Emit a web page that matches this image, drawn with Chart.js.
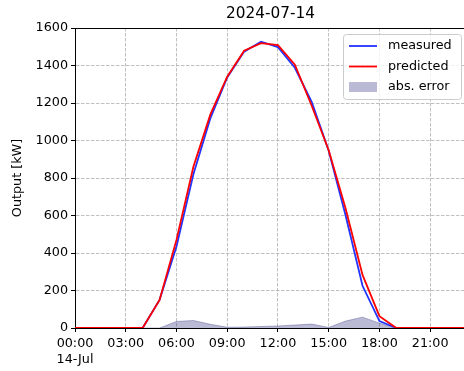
<!DOCTYPE html>
<html>
<head>
<meta charset="utf-8">
<script src="https://cdn.jsdelivr.net/npm/chart.js@4.4.1/dist/chart.umd.min.js"></script>
<style>
  html, body { margin: 0; padding: 0; background: #fff; }
  #chart { display: block; }
</style>
</head>
<body>
<canvas id="chart" width="464" height="371"></canvas>
<script>
// hourly values for 2024-07-14
const hours = [0, 1, 2, 3, 4, 5, 6, 7, 8, 9, 10, 11, 12, 13, 14, 15, 16, 17, 18, 19, 20, 21, 22, 23];
const measured = [0, 0, 0, 0, 0, 150, 435, 820, 1118, 1336, 1474, 1527, 1498, 1388, 1205, 945, 600, 225, 37, 0, 0, 0, 0, 0];
const predicted = [0, 0, 0, 0, 0, 150, 470, 860, 1138, 1340, 1479, 1519, 1509, 1404, 1184, 948, 637, 283, 63, 0, 0, 0, 0, 0];
const absError = [0, 0, 0, 0, 0, 0, 35, 40, 20, 4, 5, 8, 11, 16, 21, 3, 37, 58, 26, 0, 0, 0, 0, 0];

const yTicks = [0, 200, 400, 600, 800, 1000, 1200, 1400, 1600];
const xTickLabels = { 0: ['00:00', '14-Jul'], 3: '03:00', 6: '06:00', 9: '09:00', 12: '12:00', 15: '15:00', 18: '18:00', 21: '21:00' };
const titleText = '2024-07-14';
const yTitle = 'Output [kW]';

const FONT = 'DejaVu Sans';
const BLUE = '#2233ff';
const RED = '#ff0000';
const ERR_FILL = 'rgba(25, 25, 112, 0.3)';

const toPoints = arr => hours.map((h, i) => ({ x: h, y: arr[i] }));

// title over the plot area, top spine and the legend box inside the axes
const decorations = {
    id: 'decorations',
    afterDraw(chart) {
        const { ctx, chartArea: a } = chart;
        ctx.save();

        ctx.strokeStyle = '#000';
        ctx.lineWidth = 1;
        ctx.beginPath();
        ctx.moveTo(a.left, a.top + 0.5);
        ctx.lineTo(a.right, a.top + 0.5);
        ctx.stroke();

        ctx.fillStyle = '#000';
        ctx.font = `15.3px "${FONT}"`;
        ctx.textAlign = 'center';
        ctx.textBaseline = 'middle';
        ctx.fillText(titleText, (a.left + a.right) / 2 + 1, 14);

        // legend
        const bx = 343.5, by = 34.5, bw = 118, bh = 65;
        ctx.beginPath();
        ctx.roundRect(bx, by, bw, bh, 3);
        ctx.fillStyle = 'rgba(255,255,255,0.8)';
        ctx.fill();
        ctx.strokeStyle = '#cccccc';
        ctx.lineWidth = 1;
        ctx.stroke();

        const entries = [
            { label: 'measured', type: 'line', color: BLUE, y: 46 },
            { label: 'predicted', type: 'line', color: RED, y: 66.5 },
            { label: 'abs. error', type: 'patch', color: ERR_FILL, y: 87 }
        ];
        ctx.font = `12.75px "${FONT}"`;
        ctx.textAlign = 'left';
        entries.forEach(e => {
            if (e.type === 'line') {
                ctx.strokeStyle = e.color;
                ctx.lineWidth = 1.8;
                ctx.beginPath();
                ctx.moveTo(349, e.y);
                ctx.lineTo(377, e.y);
                ctx.stroke();
            } else {
                ctx.fillStyle = e.color;
                ctx.fillRect(349, e.y - 5, 28, 10);
            }
            ctx.fillStyle = '#000';
            ctx.fillText(e.label, 388, e.y);
        });

        ctx.restore();
    }
};

const ctx = document.getElementById('chart').getContext('2d');
new Chart(ctx, {
    type: 'line',
    data: {
        datasets: [
            {
                label: 'predicted',
                data: toPoints(predicted),
                borderColor: RED,
                borderWidth: 1.8,
                pointRadius: 0,
                tension: 0,
                fill: false,
                order: 0
            },
            {
                label: 'measured',
                data: toPoints(measured),
                borderColor: BLUE,
                borderWidth: 1.8,
                pointRadius: 0,
                tension: 0,
                fill: false,
                order: 1
            },
            {
                label: 'abs. error',
                data: toPoints(absError),
                borderColor: ERR_FILL,
                backgroundColor: ERR_FILL,
                borderWidth: 1,
                pointRadius: 0,
                tension: 0,
                fill: 'origin',
                order: 2
            }
        ]
    },
    options: {
        responsive: false,
        animation: false,
        events: [],
        layout: { padding: { top: 28, left: 0, right: 0, bottom: 0 } },
        plugins: {
            legend: { display: false },
            title: { display: false },
            tooltip: { enabled: false }
        },
        scales: {
            x: {
                type: 'linear',
                min: hours[0],
                max: hours[hours.length - 1],
                afterFit: s => { s.height = 43; },
                ticks: {
                    stepSize: 3,
                    includeBounds: false,
                    autoSkip: false,
                    maxRotation: 0,
                    padding: 3,
                    color: '#000',
                    font: { family: FONT, size: 12.75, lineHeight: 1.3 },
                    callback: v => xTickLabels[v] ?? ''
                },
                grid: {
                    color: '#b0b0b0',
                    lineWidth: 0.8,
                    tickColor: '#000',
                    tickLength: 4,
                    tickWidth: 1,
                    tickBorderDash: []
                },
                border: { color: '#000', width: 1, dash: [3.5, 1.5] }
            },
            y: {
                min: yTicks[0],
                max: yTicks[yTicks.length - 1],
                afterFit: s => { s.width = 75; },
                afterBuildTicks: s => { s.ticks = yTicks.map(v => ({ value: v })); },
                ticks: {
                    padding: 3,
                    color: '#000',
                    font: { family: FONT, size: 12.75 },
                    callback: v => String(v)
                },
                title: {
                    display: true,
                    text: yTitle,
                    color: '#000',
                    font: { family: FONT, size: 12.75 },
                    padding: { top: 10, bottom: 4 }
                },
                grid: {
                    color: '#b0b0b0',
                    lineWidth: 0.8,
                    tickColor: '#000',
                    tickLength: 4,
                    tickWidth: 1,
                    tickBorderDash: []
                },
                border: { color: '#000', width: 1, dash: [3.5, 1.5] }
            }
        }
    },
    plugins: [decorations]
});
</script>
</body>
</html>
